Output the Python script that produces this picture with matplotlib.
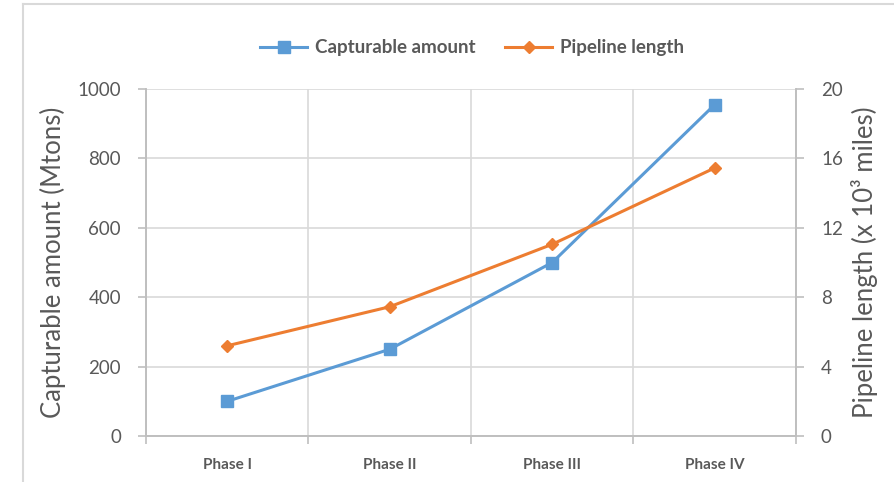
#!/usr/bin/env python3

import numpy as np
import matplotlib.pyplot as plt
from matplotlib.lines import Line2D

phases = ["Phase I", "Phase II", "Phase III", "Phase IV"]
capturable = [100, 250, 500, 955]
pipeline = [5.2, 7.45, 11.05, 15.45]

left_ticks = [0, 200, 400, 600, 800, 1000]
right_ticks = [0, 4, 8, 12, 16, 20]

BLUE = "#5B9BD5"
ORANGE = "#ED7D31"
TEXT = "#595959"
GRID = "#D9D9D9"
AXIS = "#BFBFBF"

plt.rcParams["font.family"] = ["Lato", "DejaVu Sans"]


def main():
    fig = plt.figure(figsize=(8.95, 4.82), dpi=100)
    ax = fig.add_axes([146 / 895, 1 - 436 / 482, 650 / 895, 347 / 482])
    ax2 = ax.twinx()

    x = np.arange(len(phases))

    # frame around the chart area (only left and top visible in the crop)
    fig.add_artist(Line2D([23 / 895, 23 / 895], [0, 1 - 4 / 482],
                          color="#D9D9D9", lw=1.5))
    fig.add_artist(Line2D([23 / 895, 1], [1 - 4 / 482, 1 - 4 / 482],
                          color="#D9D9D9", lw=1.5))

    ax.set_xlim(-0.5, len(phases) - 0.5)
    ax.set_ylim(0, 1000)
    ax2.set_ylim(0, 20)

    ax.set_xticks(x)
    ax.set_xticklabels(phases, fontsize=11, fontweight="bold", color=TEXT)
    ax.set_xticks(np.arange(-0.5, len(phases)), minor=True)
    ax.tick_params(axis="x", which="major", length=0, pad=16)
    ax.tick_params(axis="x", which="minor", length=6, color=AXIS, width=1.2)
    ax.grid(axis="x", which="minor", color=GRID, lw=1.2)

    ax.set_yticks(left_ticks)
    ax.tick_params(axis="y", length=6, color=AXIS, width=1.2,
                   labelsize=13.5, labelcolor=TEXT, pad=12)
    ax.grid(axis="y", color=GRID, lw=1.2)
    ax.set_axisbelow(True)

    ax2.set_yticks(right_ticks)
    ax2.tick_params(axis="y", length=6, color=AXIS, width=1.2,
                    labelsize=13.5, labelcolor=TEXT, pad=12)

    for a in (ax, ax2):
        a.spines["top"].set_visible(False)
        for s in ("left", "right", "bottom"):
            a.spines[s].set_color(AXIS)
            a.spines[s].set_linewidth(1.2)

    ax.set_ylabel("Capturable amount (Mtons)", fontsize=18.5, color=TEXT,
                  labelpad=8)
    ax2.set_ylabel("Pipeline length (x 10³ miles)", fontsize=18.5, color=TEXT,
                   labelpad=6)

    l1, = ax.plot(x, capturable, color=BLUE, lw=2.2, marker="s",
                  markersize=8, label="Capturable amount")
    l2, = ax2.plot(x, pipeline, color=ORANGE, lw=2.2, marker="D",
                   markersize=6, label="Pipeline length")

    fig.legend(handles=[l1, l2], loc="center", bbox_to_anchor=(472 / 895, 1 - 48 / 482),
               ncol=2, frameon=False, handlelength=2.5, handletextpad=0.4,
               columnspacing=1.6, prop={"size": 13.5, "weight": "bold"},
               labelcolor=TEXT)

    fig.savefig("out.png", dpi=100)


if __name__ == "__main__":
    main()
